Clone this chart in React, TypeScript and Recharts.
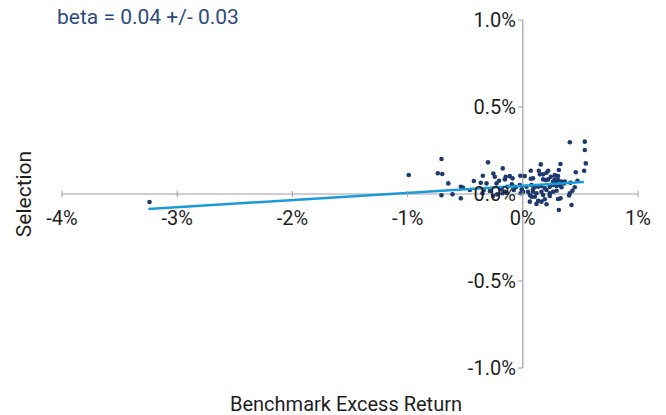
import React from 'react';
import {
  ScatterChart,
  Scatter,
  XAxis,
  YAxis,
  ReferenceLine,
  ReferenceDot,
} from 'recharts';

// benchmark excess return (%) vs selection (%)
const benchmarkExcess = [
  -3.24, -0.99, -0.706, -0.738, -0.699, -0.647, -0.706, -0.61, -0.538, -0.538,
  -0.521, -0.302, -0.347, -0.256, -0.243, -0.174, -0.315, -0.365, -0.206, -0.156,
  -0.113, -0.089, -0.022, -0.133, -0.095, -0.061, -0.194, -0.176, -0.141, -0.026,
  -0.009, -0.02, -0.258, -0.223, -0.339, -0.286, -0.148, -0.069, -0.425, -0.46,
  -0.35, -0.228, -0.078, -0.156,
  0.408, 0.538, 0.538, 0.547, 0.327, 0.156, 0.139, 0.22, 0.206, 0.069,
  0.46, 0.532, 0.313, 0.017, 0.069, 0.176, 0.22, 0.278, 0.293, 0.306,
  0.336, 0.359, 0.414, 0.475, 0.076, 0.104, 0.089, 0.133, 0.162, 0.191,
  0.234, 0.263, 0.293, 0.321, 0.089, 0.119, 0.162, 0.206, 0.234, 0.263,
  0.293, 0.336, 0.061, 0.104, 0.176, 0.234, 0.451, 0.431, 0.408, 0.402,
  0.133, 0.191, 0.306, 0.061, 0.206, 0.423, 0.313, 0.119, 0.148, 0.176,
  0.089, 0.032, 0.003, 0.046, 0.076, 0.162, 0.243, 0.278, 0.306, 0.365,
  0.2, 0.263, 0.327,
];

const selection = [
  -0.046, 0.109, 0.201, 0.119, 0.115, 0.061, -0.007, -0.002, -0.025, 0.042,
  0.037, 0.182, 0.105, 0.118, 0.099, 0.147, 0.061, 0.065, 0.076, 0.084,
  0.103, 0.09, 0.105, 0.042, 0.056, 0.039, 0.027, 0.004, 0.007, 0.052,
  0.027, 0.004, -0.011, -0.002, 0.023, 0.017, 0.099, 0.042, 0.075, 0.023,
  0.004, 0.061, 0.023, 0.013,
  0.297, 0.301, 0.253, 0.176, 0.172, 0.17, 0.134, 0.134, 0.122, 0.134,
  0.125, 0.134, 0.138, 0.103, 0.088, 0.084, 0.084, 0.084, 0.071, 0.08,
  0.071, 0.061, 0.065, 0.076, 0.052, 0.042, 0.027, 0.042, 0.046, 0.033,
  0.042, 0.052, 0.046, 0.052, 0.013, 0.004, 0.013, 0.023, 0.004, 0.013,
  0.019, 0.039, -0.006, -0.016, -0.006, -0.011, 0.039, 0.019, 0.004, -0.009,
  -0.039, -0.03, -0.029, -0.044, -0.059, -0.063, -0.092, -0.057, 0.113, 0.113,
  0.09, 0.042, 0.013, 0.013, -0.016, -0.044, 0.099, 0.109, 0.103, 0.071,
  0.08, 0.071, -0.025,
];

// fitted line: selection = 0.047 + 0.04 * benchmark
const fitX = [-3.25, 0.53];
const fitY = [-0.086, 0.069];

const xTicks = [-4, -3, -2, -1, 0, 1];
const yTicks = [1.0, 0.5, 0.0, -0.5, -1.0];

const points = benchmarkExcess.map((x, i) => ({ x, y: selection[i] }));
const fitLine = fitX.map((x, i) => ({ x, y: fitY[i] }));

const AXIS = '#9c9ca8';
const FONT = 'Roboto, sans-serif';
const TXT = '#1e1e1e';

const XTick = (label: string) => (props: any) => {
  const { cx, cy } = props;
  return (
    <g>
      <line x1={cx} x2={cx} y1={cy - 3} y2={cy + 3} stroke={AXIS} strokeWidth={1} />
      <text x={cx} y={cy + 31} textAnchor="middle" fontFamily={FONT} fontSize={20} fill={TXT}>
        {label}
      </text>
    </g>
  );
};

const YTick = (label: string) => (props: any) => {
  const { cx, cy } = props;
  return (
    <g>
      <line x1={cx - 5} x2={cx} y1={cy} y2={cy} stroke={AXIS} strokeWidth={1} />
      <text x={cx - 7} y={cy + 7} textAnchor="end" fontFamily={FONT} fontSize={20} fill={TXT}>
        {label}
      </text>
    </g>
  );
};

export default function App() {
  return (
    <div style={{ position: 'absolute', left: 0, top: 0, width: 666, height: 415, background: '#fff' }}>
      <ScatterChart width={666} height={415} margin={{ top: 20, right: 28, bottom: 47, left: 62 }}>
        <XAxis type="number" dataKey="x" domain={[-4, 1]} hide height={0} />
        <YAxis type="number" dataKey="y" domain={[-1, 1]} hide width={0} />
        <ReferenceLine y={0} stroke={AXIS} strokeWidth={1.2} />
        <ReferenceLine x={0} stroke={AXIS} strokeWidth={1.2} />
        <Scatter data={points} fill="#1d3a6e" isAnimationActive={false}
          shape={(p: any) => <circle cx={p.cx} cy={p.cy} r={2.3} fill="#1d3a6e" />} />
        <Scatter data={fitLine} isAnimationActive={false}
          line={{ stroke: '#1a9ad7', strokeWidth: 2.5 }}
          shape={() => <g />} />
        {xTicks.map((t) => (
          <ReferenceDot key={`xt${t}`} x={t} y={0} r={0} shape={XTick(`${t}%`)} />
        ))}
        {yTicks.map((t) => (
          <ReferenceDot key={`yt${t}`} x={0} y={t} r={0} shape={YTick(`${t.toFixed(1)}%`)} />
        ))}
      </ScatterChart>
      <div style={{ position: 'absolute', left: 57, top: 5, fontFamily: FONT, fontSize: 21, color: '#2b4b82', whiteSpace: 'nowrap' }}>
        beta = 0.04 +/- 0.03
      </div>
      <div style={{ position: 'absolute', left: 24, top: 194, transform: 'translate(-50%, -50%) rotate(-90deg)', fontFamily: FONT, fontSize: 21, color: TXT, whiteSpace: 'nowrap' }}>
        Selection
      </div>
      <div style={{ position: 'absolute', left: 346, top: 404, transform: 'translate(-50%, -50%)', fontFamily: FONT, fontSize: 20, color: TXT, whiteSpace: 'nowrap' }}>
        Benchmark Excess Return
      </div>
    </div>
  );
}
